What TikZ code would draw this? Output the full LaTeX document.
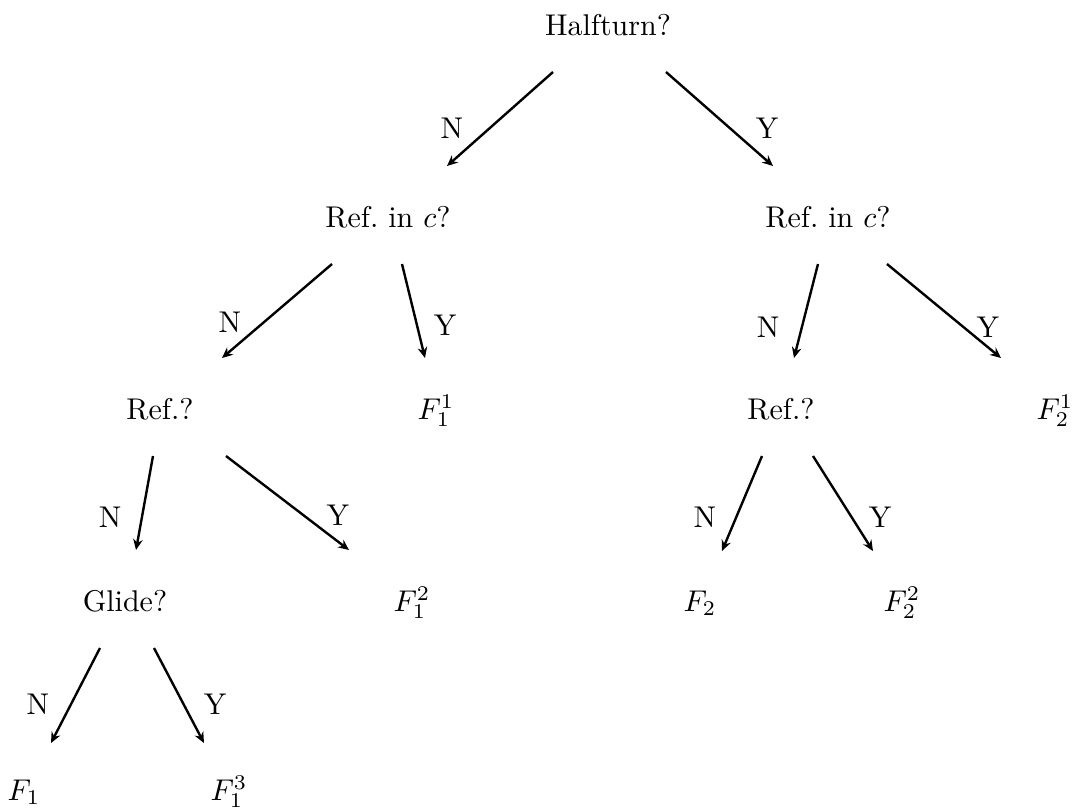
\documentclass[tikz,border=0pt]{standalone}
\usetikzlibrary{arrows.meta}
\begin{document}
\begin{tikzpicture}[x=0.33333pt,y=-0.33333pt,
  lbl/.style={anchor=base,inner sep=0pt},
  yn/.style={anchor=center,inner sep=0pt},
  arr/.style={thick,-{Stealth[length=3.6pt,width=3.2pt,inset=1.2pt]}}]
\useasboundingbox (0,0) rectangle (1078,809);
% nodes
\node[lbl] (ht)  at (608,35)  {Halfturn?};
\node[lbl] (rl)  at (388,227) {Ref.\ in $c$?};
\node[lbl] (rr)  at (828,227) {Ref.\ in $c$?};
\node[lbl] (fl)  at (160,419) {Ref.?};
\node[lbl] (f11) at (436,419) {$F_1^1$};
\node[lbl] (rq)  at (781,419) {Ref.?};
\node[lbl] (f21) at (1055,419) {$F_2^1$};
\node[lbl] (gl)  at (125,611) {Glide?};
\node[lbl] (f12) at (412,611) {$F_1^2$};
\node[lbl] (f2)  at (700,611) {$F_2$};
\node[lbl] (f22) at (902,611) {$F_2^2$};
\node[lbl] (f1)  at (24,800)  {$F_1$};
\node[lbl] (f13) at (229,800) {$F_1^3$};
% arrows
\draw[arr] ([shift={(-55,37)}]ht.base) -- ([shift={(59,-61)}]rl.base);
\draw[arr] ([shift={(58,37)}]ht.base) -- ([shift={(-55,-61)}]rr.base);
\draw[arr] ([shift={(-56,37)}]rl.base) -- ([shift={(62,-61)}]fl.base);
\draw[arr] ([shift={(14,37)}]rl.base) -- ([shift={(-11,-61)}]f11.base);
\draw[arr] ([shift={(-10,37)}]rr.base) -- ([shift={(13,-61)}]rq.base);
\draw[arr] ([shift={(59,37)}]rr.base) -- ([shift={(-54,-61)}]f21.base);
\draw[arr] ([shift={(-7,37)}]fl.base) -- ([shift={(11,-61)}]gl.base);
\draw[arr] ([shift={(66,37)}]fl.base) -- ([shift={(-63,-61)}]f12.base);
\draw[arr] ([shift={(-25,37)}]gl.base) -- ([shift={(27,-57)}]f1.base);
\draw[arr] ([shift={(29,37)}]gl.base) -- ([shift={(-25,-57)}]f13.base);
\draw[arr] ([shift={(-19,37)}]rq.base) -- ([shift={(22,-60)}]f2.base);
\draw[arr] ([shift={(32,37)}]rq.base) -- ([shift={(-29,-60)}]f22.base);
% labels
\node[yn] (n1) at (452,128) {N};
\node[yn] (y1) at (767,128) {Y};
\node[yn] (n2) at (230,322) {N};
\node[yn] (y2) at (445,325) {Y};
\node[yn] (n3) at (768,327) {N};
\node[yn] (y3) at (988,327) {Y};
\node[yn] (n4) at (110,517) {N};
\node[yn] (y4) at (338,515) {Y};
\node[yn] (n5) at (38,704)  {N};
\node[yn] (y5) at (215,704) {Y};
\node[yn] (n6) at (705,517) {N};
\node[yn] (y6) at (880,517) {Y};
\end{tikzpicture}
\end{document}
